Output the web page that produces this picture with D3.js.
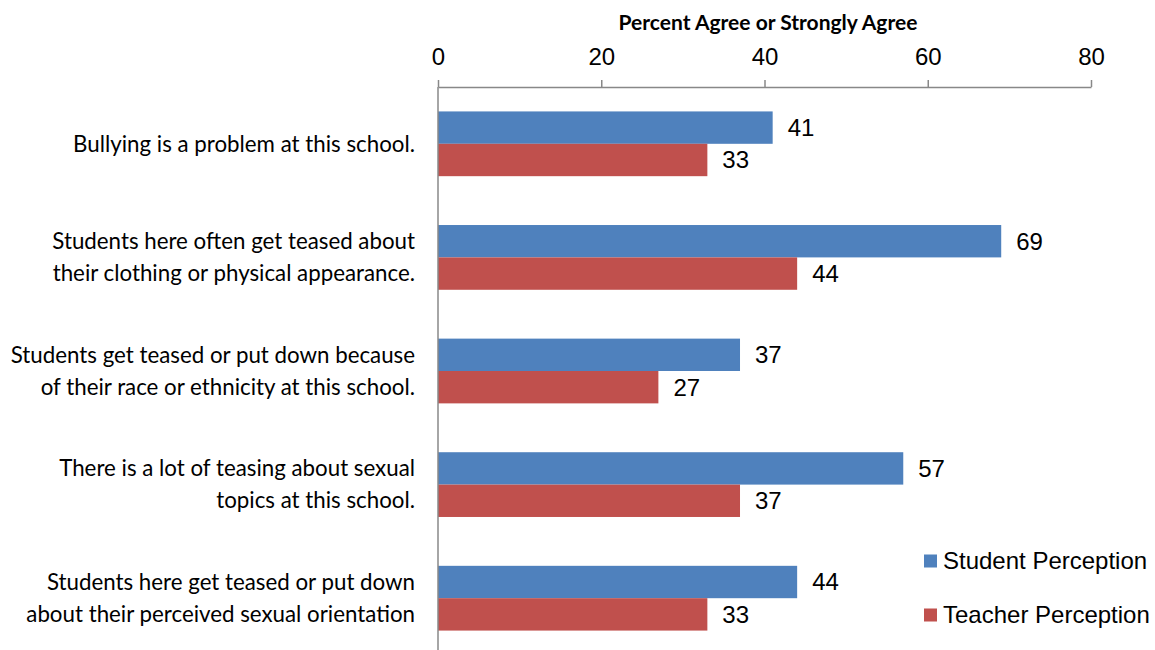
<!DOCTYPE html>
<html><head><meta charset="utf-8">
<script src="https://cdn.jsdelivr.net/npm/d3@7"></script>
<style>body{margin:0;background:#fff}</style>
</head><body>
<svg id="c" width="1155" height="650"></svg>
<script>
const categories = [
  ["Bullying is a problem at this school."],
  ["Students here often get teased about","their clothing or physical appearance."],
  ["Students get teased or put down because","of their race or ethnicity at this school."],
  ["There is a lot of teasing about sexual","topics at this school."],
  ["Students here get teased or put down","about their perceived sexual orientation"]
];
const studentValues = [41, 69, 37, 57, 44];
const teacherValues = [33, 44, 27, 37, 33];
const seriesNames = ["Student Perception", "Teacher Perception"];
const seriesColors = ["#4F81BD", "#C0504D"];
const tickValues = [0, 20, 40, 60, 80];
const axisTitle = "Percent Agree or Strongly Agree";

const svg = d3.select("#c");
const x = d3.scaleLinear().domain([0, 80]).range([438, 1091]);
const y = d3.scaleBand().domain(d3.range(categories.length)).range([87, 655])
  .paddingInner(0.43).paddingOuter(0.215);
const sub = d3.scaleBand().domain([0, 1]).range([0, y.bandwidth()]);

const series = [studentValues, teacherValues];
const g = svg.append("g");
series.forEach((vals, si) => {
  g.selectAll(".b" + si).data(vals).enter().append("rect")
    .attr("x", x(0))
    .attr("y", (d, i) => y(i) + sub(si))
    .attr("width", d => x(d) - x(0))
    .attr("height", sub.bandwidth())
    .attr("fill", seriesColors[si]);
  g.selectAll(".l" + si).data(vals).enter().append("text")
    .attr("x", d => x(d) + 15)
    .attr("y", (d, i) => y(i) + sub(si) + sub.bandwidth() / 2)
    .attr("dy", "0.35em")
    .attr("font-family", "Liberation Sans, Arial, sans-serif")
    .attr("font-size", 24)
    .attr("fill", "#000")
    .text(d => d);
});

// top axis
const ax = svg.append("g").attr("transform", "translate(0,87)")
  .call(d3.axisTop(x).tickValues(tickValues).tickSize(7).tickPadding(15).tickSizeOuter(0));
ax.select(".domain").attr("stroke", "#888").attr("stroke-width", 1.5);
ax.selectAll(".tick line").attr("stroke", "#888").attr("stroke-width", 1.5);
ax.selectAll(".tick text").attr("font-family", "Liberation Sans, Arial, sans-serif")
  .attr("font-size", 24).attr("fill", "#000");

// vertical axis line
svg.append("line").attr("x1", x(0)).attr("x2", x(0)).attr("y1", 87).attr("y2", 655)
  .attr("stroke", "#888").attr("stroke-width", 1.5);

// title
svg.append("text").attr("x", 768).attr("y", 30)
  .attr("text-anchor", "middle").attr("font-family", "Lato, 'Open Sans', sans-serif")
  .attr("font-weight", "bold").attr("font-size", 21).text(axisTitle);

// category labels
categories.forEach((lines, i) => {
  const cy = y(i) + y.bandwidth() / 2;
  const lh = 32;
  const t = svg.append("text").attr("text-anchor", "end")
    .attr("font-family", "Lato, 'Open Sans', sans-serif").attr("font-size", 22.3).attr("fill", "#000");
  lines.forEach((ln, k) => {
    t.append("tspan").attr("x", 415)
      .attr("y", cy + (k - (lines.length - 1) / 2) * lh).attr("dy", "0.35em").text(ln);
  });
});

// legend
const lg = svg.append("g");
seriesNames.forEach((n, i) => {
  const ly = 561 + i * 54;
  lg.append("rect").attr("x", 924).attr("y", ly - 6.5).attr("width", 13).attr("height", 13).attr("fill", seriesColors[i]);
  lg.append("text").attr("x", 943).attr("y", ly).attr("dy", "0.35em")
    .attr("font-family", "Liberation Sans, Arial, sans-serif").attr("font-size", 24).text(n);
});
</script>
</body></html>
